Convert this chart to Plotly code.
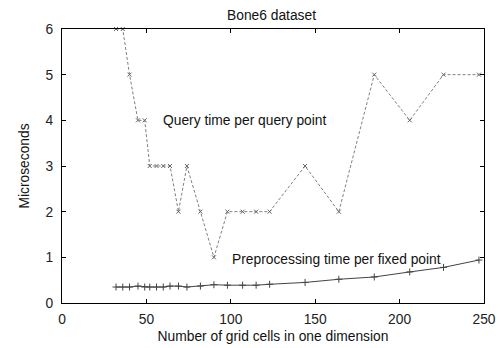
import plotly.graph_objects as go

grid_cells = [32, 36, 40, 45, 49, 52, 56, 60, 64, 69, 74, 82, 90, 98, 107, 115, 123,
              144, 164, 185, 206, 226, 247]
query_time = [6, 6, 5, 4, 4, 3, 3, 3, 3, 2, 3, 2, 1, 2, 2, 2, 2,
              3, 2, 5, 4, 5, 5]
preproc_time = [0.35, 0.35, 0.35, 0.37, 0.35, 0.35, 0.35, 0.35, 0.37, 0.37, 0.35, 0.37,
                0.40, 0.39, 0.39, 0.39, 0.41, 0.45, 0.52, 0.57, 0.68, 0.78, 0.94]

title = "Bone6 dataset"
x_label = "Number of grid cells in one dimension"
y_label = "Microseconds"
x_ticks = [0, 50, 100, 150, 200, 250]
y_ticks = [0, 1, 2, 3, 4, 5, 6]

font = "Liberation Sans, Arial, sans-serif"
fs = 13.8

fig = go.Figure()
fig.add_trace(go.Scatter(
    x=grid_cells, y=query_time, mode="lines+markers",
    line=dict(color="#808080", width=1, dash="3px,2px"),
    marker=dict(symbol="x-thin", size=4, line=dict(color="#666666", width=1)),
    cliponaxis=False, showlegend=False))
fig.add_trace(go.Scatter(
    x=grid_cells, y=preproc_time, mode="lines+markers",
    line=dict(color="#444444", width=1),
    marker=dict(symbol="cross-thin", size=5, line=dict(color="#444444", width=1)),
    cliponaxis=False, showlegend=False))

fig.add_annotation(x=108.5, y=4.0, text="Query time per query point", showarrow=False,
                   font=dict(size=fs, color="#111111", family=font), xanchor="center", yanchor="middle")
fig.add_annotation(x=162.7, y=0.96, text="Preprocessing time per fixed point", showarrow=False,
                   font=dict(size=fs, color="#111111", family=font), xanchor="center", yanchor="middle")
# chart title, centred over the plot like the reference
fig.add_annotation(x=124.4, xref="x", y=1.051, yref="paper", text=title, showarrow=False,
                   font=dict(size=fs, color="#111111", family=font), xanchor="center", yanchor="middle")

axis_common = dict(showgrid=False, zeroline=False, showline=True, linecolor="#000000",
                   linewidth=1, mirror="allticks", ticks="inside", ticklen=4, automargin=False,
                   tickcolor="#000000", tickfont=dict(size=fs, color="#222222", family=font))

fig.update_layout(
    width=500, height=348,
    margin=dict(l=62, r=16, t=29, b=45),
    paper_bgcolor="white", plot_bgcolor="white",
    font=dict(family=font, size=fs, color="#111111"),
    xaxis=dict(range=[0, 250], tickvals=x_ticks, ticklabelstandoff=3,
               title=dict(text=x_label, standoff=5, font=dict(size=fs, family=font)), **axis_common),
    yaxis=dict(range=[0, 6], tickvals=y_ticks, ticklabelstandoff=5,
               title=dict(text=y_label, standoff=12, font=dict(size=fs, family=font)), **axis_common),
)

fig.write_html("out.html")
